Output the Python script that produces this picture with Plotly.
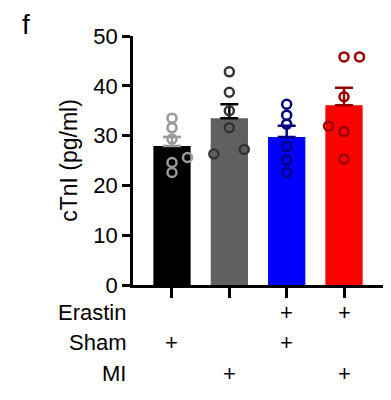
import plotly.graph_objects as go

groups = ["Sham", "MI", "Sham+Erastin", "MI+Erastin"]
bar_means = [27.9, 33.5, 29.7, 36.1]
bar_sem = [1.8, 2.8, 2.3, 3.5]
points = [
    [33.5, 31.6, 29.3, 24.6, 22.6, 25.6],
    [42.8, 38.7, 35.0, 31.6, 26.3, 27.2],
    [36.3, 34.1, 32.3, 27.8, 25.1, 22.6],
    [45.8, 45.8, 37.8, 31.9, 30.8, 25.3],
]
jitter = [
    [0, 0, 0, 0, 0, 0.27],
    [0, 0, 0, 0, -0.27, 0.26],
    [0, 0, 0, 0, 0, 0],
    [0, 0.27, 0, -0.27, 0, 0],
]
row_labels = ["Erastin", "Sham", "MI"]
row_marks = [
    [False, False, True, True],
    [True, False, True, False],
    [False, True, False, True],
]
y_ticks = [0, 10, 20, 30, 40, 50]

bar_colors = ["#000000", "#606060", "#0000ff", "#ff0000"]
pt_colors = ["#999999", "#333333", "#000080", "#990000"]
err_colors = ["#999999", "#000000", "#000080", "#990000"]

fig = go.Figure()
for i, g in enumerate(groups):
    fig.add_trace(go.Bar(
        x=[i], y=[bar_means[i]], width=0.65,
        marker=dict(color=bar_colors[i], line=dict(width=0)),
        error_y=dict(type="data", array=[bar_sem[i]], symmetric=False, arrayminus=[0],
                     color=err_colors[i], thickness=2.5, width=9),
        showlegend=False, name=g,
    ))
for i, g in enumerate(groups):
    fig.add_trace(go.Scatter(
        x=[i + j for j in jitter[i]], y=points[i], mode="markers",
        marker=dict(symbol="circle-open", size=9, color=pt_colors[i],
                    line=dict(width=2.5, color=pt_colors[i])),
        showlegend=False, cliponaxis=False, name=g,
    ))

font = "Liberation Sans, Arial, sans-serif"
annotations = []
row_y = [-0.1096, -0.2297, -0.3542]
for r, lab in enumerate(row_labels):
    annotations.append(dict(text=lab, xref="paper", yref="paper", x=-0.02, y=row_y[r],
                            xanchor="right", yanchor="middle", showarrow=False,
                            font=dict(size=22, color="black", family=font)))
    for i, m in enumerate(row_marks[r]):
        if m:
            annotations.append(dict(text="+", xref="x", yref="paper", x=i, y=row_y[r],
                                    xanchor="center", yanchor="middle", showarrow=False,
                                    font=dict(size=22, color="black", family=font)))
annotations.append(dict(text="f", xref="paper", yref="paper", x=-0.428, y=1.048,
                        xanchor="center", yanchor="middle", showarrow=False,
                        font=dict(size=28, color="black", family=font)))

# page has an 8px body margin, so the figure is drawn 8px smaller with offset margins
fig.update_layout(
    width=383, height=392,
    margin=dict(l=125, r=8, t=28, b=115, autoexpand=False),
    plot_bgcolor="white", paper_bgcolor="white",
    font=dict(family=font, size=22, color="black"),
    annotations=annotations,
    xaxis=dict(range=[-0.68, 3.68], tickvals=[0, 1, 2, 3], ticktext=["", "", "", ""],
               showline=True, linecolor="black", linewidth=2.5, ticks="outside",
               ticklen=10, tickwidth=2.5, tickcolor="black", showgrid=False, zeroline=False,
               automargin=False),
    yaxis=dict(range=[0, 50], tickvals=y_ticks, showline=True, linecolor="black", linewidth=2.5,
               ticks="outside", ticklen=8, tickwidth=2.5, tickcolor="black",
               showgrid=False, zeroline=False, automargin=False,
               tickfont=dict(size=22, family=font, color="black"),
               title=dict(text="cTnI (pg/ml)", font=dict(size=23, family=font, color="black"),
                          standoff=10)),
)
fig.write_html("out.html")
